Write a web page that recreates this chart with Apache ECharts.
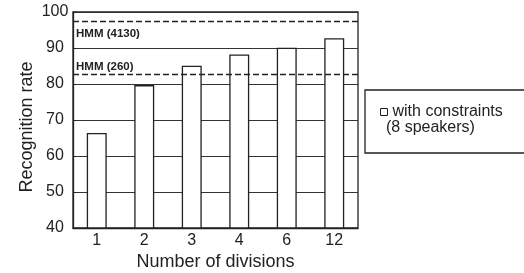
<!DOCTYPE html>
<html><head><meta charset="utf-8">
<script src="https://cdn.jsdelivr.net/npm/echarts@6/dist/echarts.min.js"></script>
<style>html,body{margin:0;padding:0;background:#fff}#c{width:524px;height:273px}</style>
</head><body><div id="c"></div>
<script>
const categories = ['1','2','3','4','6','12'];
const withConstraints = [66.4, 79.7, 85.1, 88.2, 90.1, 92.7];
const hmmLines = [{name:'HMM (4130)', value:97.3}, {name:'HMM (260)', value:82.8}];
const yTicks = {min:40, max:100, interval:10};

const chart = echarts.init(document.getElementById('c'), null, {renderer:'canvas'});
const font = 'Liberation Sans, Arial, sans-serif';
const ink = '#222';
chart.setOption({
  animation:false,
  backgroundColor:'#fff',
  textStyle:{fontFamily:font},
  grid:{left:73, right:166, top:12, bottom:45, containLabel:false, outerBoundsMode:'none',
        show:true, borderColor:ink, borderWidth:1.3, backgroundColor:'transparent'},
  legend:{
    left:365, top:90, orient:'vertical',
    borderColor:ink, borderWidth:1.3, borderRadius:0,
    padding:[13, 60, 32, 15],
    itemWidth:7, itemHeight:7, itemGap:4,
    icon:'rect',
    textStyle:{fontFamily:font, fontSize:16, color:ink, lineHeight:18},
    data:[{name:'with constraints', itemStyle:{color:'#fff', borderColor:ink, borderWidth:1}}]
  },
  graphic:[{type:'text', left:386, top:120, style:{text:'(8 speakers)', font:'16px '+font, fill:ink}}],
  xAxis:{
    type:'category', data:categories,
    name:'Number of divisions', nameLocation:'middle', nameGap:25, nameMoveOverlap:false,
    nameTextStyle:{fontSize:18, color:ink, fontFamily:font},
    axisLine:{lineStyle:{color:ink, width:1.3}},
    axisTick:{inside:true, length:4, lineStyle:{color:ink}},
    axisLabel:{fontSize:16, color:ink, margin:5, fontFamily:font}
  },
  yAxis:{
    type:'value', min:yTicks.min, max:yTicks.max, interval:yTicks.interval,
    name:'Recognition rate', nameLocation:'middle', nameGap:37, nameMoveOverlap:false,
    nameTextStyle:{fontSize:18, color:ink, fontFamily:font, padding:[0,14,0,0]},
    axisLine:{show:true, lineStyle:{color:ink, width:1.3}},
    axisTick:{show:true, inside:true, length:3, lineStyle:{color:ink}},
    axisLabel:{fontSize:16, color:ink, margin:18, align:'center', fontFamily:font},
    splitLine:{lineStyle:{color:'#333', width:1}}
  },
  series:[{
    name:'with constraints', type:'bar', data:withConstraints, barWidth:'42%',
    itemStyle:{color:'#fff', borderColor:ink, borderWidth:1.3},
    markLine:{
      symbol:'none', silent:true,
      lineStyle:{type:[6,3], color:ink, width:1.3},
      data: hmmLines.map((h,i)=>({yAxis:h.value, name:h.name,
        label:{show:true, formatter:h.name, position: i===0?'insideStartBottom':'insideStartTop',
          fontSize:11.5, fontWeight:'bold', color:ink, fontFamily:font, distance: i===0?[3,6]:[3,1]}}))
    }
  }]
});
</script></body></html>
